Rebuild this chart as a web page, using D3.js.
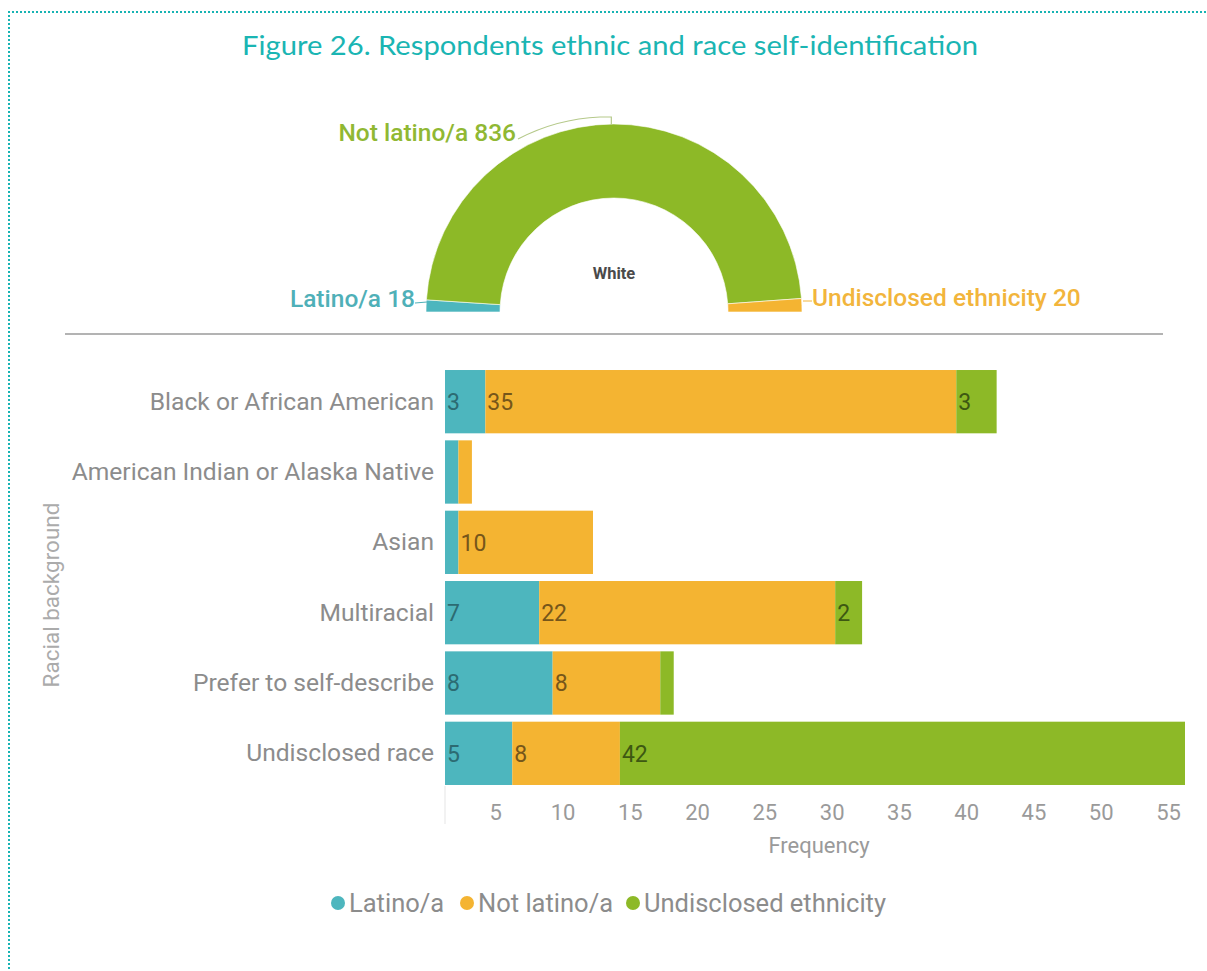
<!DOCTYPE html>
<html>
<head>
<meta charset="utf-8">
<script src="https://cdn.jsdelivr.net/npm/d3@7"></script>
<style>
  html, body { margin: 0; padding: 0; background: #fff; }
  svg { display: block; }
</style>
</head>
<body>
<svg id="chart" width="1207" height="971"></svg>
<script>
// Ethnicity groups (series) and their colours
const ethnicities = ["Latino/a", "Not latino/a", "Undisclosed ethnicity"];
const barColors = ["#4db6be", "#f4b432", "#8db927"];
const valueColors = ["#2c6b72", "#76561a", "#3d5812"];
// the half donut uses its own palette
const donutColors = ["#4db6be", "#8db927", "#f4b432"];
const donutLabelColors = ["#4fb0b8", "#90b833", "#f2b53c"];

// Respondents who identified as White, by ethnicity
const whiteCounts = [18, 836, 20];

// Other racial backgrounds, by ethnicity
const races = ["Black or African American", "American Indian or Alaska Native", "Asian",
               "Multiracial", "Prefer to self-describe", "Undisclosed race"];
const latino      = [3, 1, 1, 7, 8, 5];
const notLatino   = [35, 1, 10, 22, 8, 8];
const undisclosed = [3, 0, 0, 2, 1, 42];

const xTicks = [5, 10, 15, 20, 25, 30, 35, 40, 45, 50, 55];

const svg = d3.select("#chart");
const W = 1207, H = 971;
const FONT = "Roboto, sans-serif";

// Dotted frame
const frameColor = "#17b3b3";
svg.append("line").attr("x1", 9).attr("y1", 11).attr("x2", 9).attr("y2", H)
  .attr("stroke", frameColor).attr("stroke-width", 2).attr("stroke-dasharray", "2,2");
svg.append("line").attr("x1", 8).attr("y1", 12).attr("x2", W).attr("y2", 12)
  .attr("stroke", frameColor).attr("stroke-width", 2).attr("stroke-dasharray", "2,2");

// Title
svg.append("text")
  .attr("x", 610).attr("y", 55)
  .attr("text-anchor", "middle")
  .attr("font-family", "Lato, 'Open Sans', sans-serif")
  .attr("font-size", 27.5)
  .attr("textLength", 736)
  .attr("lengthAdjust", "spacingAndGlyphs")
  .attr("fill", "#1ab5b3")
  .text("Figure 26. Respondents ethnic and race self-identification");

// ---- Half donut: White respondents ----
const cx = 614, cy = 312, rOuter = 188, rInner = 114;
const pie = d3.pie().sort(null).startAngle(-Math.PI / 2).endAngle(Math.PI / 2);
const arc = d3.arc().innerRadius(rInner).outerRadius(rOuter);
const arcs = pie(whiteCounts);

const donut = svg.append("g").attr("transform", `translate(${cx},${cy})`);
donut.selectAll("path").data(arcs).join("path")
  .attr("d", arc)
  .attr("fill", (d, i) => donutColors[i])
  .attr("stroke", "#fff").attr("stroke-width", 0.6);

donut.append("text")
  .attr("x", 0).attr("y", -33)
  .attr("text-anchor", "middle")
  .attr("font-family", FONT)
  .attr("font-weight", 700)
  .attr("font-size", 16.5)
  .attr("fill", "#4a4a4a")
  .text("White");

// Slice labels with leader lines
const sliceLabels = [
  { i: 0, x: 415, y: 307, anchor: "end", line: [[415, 303], [427, 302]] },
  { i: 1, x: 516, y: 141, anchor: "end", line: null },
  { i: 2, x: 812, y: 306, anchor: "start", line: [[803, 301], [812, 301]] }
];
sliceLabels.forEach(s => {
  svg.append("text")
    .attr("x", s.x).attr("y", s.y)
    .attr("text-anchor", s.anchor)
    .attr("font-family", FONT)
    .attr("font-weight", 500)
    .attr("font-size", 24.5)
    .attr("fill", donutLabelColors[s.i])
    .text(`${ethnicities[s.i]} ${whiteCounts[s.i]}`);
});
// leader for the main slice: from its label to the top of the arc
const midAngle = (arcs[1].startAngle + arcs[1].endAngle) / 2;
const topX = cx + rOuter * Math.sin(midAngle), topY = cy - rOuter * Math.cos(midAngle);
svg.append("path")
  .attr("d", `M518,139 C545,125 575,118 600,117 L${topX - 2},117 L${topX - 2},${topY + 1}`)
  .attr("fill", "none").attr("stroke", "#b5c98a").attr("stroke-width", 1.2);
sliceLabels.filter(s => s.line).forEach(s => {
  svg.append("path")
    .attr("d", d3.line()(s.line))
    .attr("fill", "none").attr("stroke", donutLabelColors[s.i]).attr("stroke-width", 1);
});

// Separator
svg.append("line").attr("x1", 65).attr("x2", 1163).attr("y1", 334).attr("y2", 334)
  .attr("stroke", "#9a9a9a").attr("stroke-width", 1.5);

// ---- Stacked bars ----
const x = d3.scaleLinear().domain([0, 55]).range([445, 1185]);
const y = d3.scaleBand().domain(races).range([366.5, 788.5]).paddingInner(0.1).paddingOuter(0.05);

const rows = races.map((r, i) => ({
  race: r,
  "Latino/a": latino[i],
  "Not latino/a": notLatino[i],
  "Undisclosed ethnicity": undisclosed[i]
}));
const stack = d3.stack().keys(ethnicities)(rows);

// faint baseline
svg.append("line").attr("x1", x(0)).attr("x2", x(0)).attr("y1", 786).attr("y2", 824)
  .attr("stroke", "#eeeeee").attr("stroke-width", 1.5);

const layers = svg.append("g").selectAll("g").data(stack).join("g")
  .attr("fill", (d, i) => barColors[i]);
layers.selectAll("rect").data(d => d).join("rect")
  .attr("x", d => x(d[0]))
  .attr("y", d => y(d.data.race))
  .attr("width", d => x(d[1]) - x(d[0]))
  .attr("height", y.bandwidth());

// value labels inside segments
stack.forEach((layer, li) => {
  svg.append("g").selectAll("text")
    .data(layer.filter(d => d[1] - d[0] >= 2))
    .join("text")
    .attr("x", d => x(d[0]) + 2)
    .attr("y", d => y(d.data.race) + y.bandwidth() / 2)
    .attr("dy", "0.36em")
    .attr("font-family", FONT)
    .attr("font-size", 23)
    .attr("fill", valueColors[li])
    .text(d => d[1] - d[0]);
});

// category axis
const yAxis = svg.append("g").attr("transform", `translate(${x(0)},0)`)
  .call(d3.axisLeft(y).tickSize(0).tickPadding(11));
yAxis.select(".domain").remove();
yAxis.selectAll("text")
  .attr("font-family", FONT)
  .attr("font-size", 24.6)
  .attr("fill", "#8c8c8c");

// value axis
const xAxis = svg.append("g").attr("transform", "translate(0,798)")
  .call(d3.axisBottom(x).tickValues(xTicks).tickSize(0).tickPadding(6));
xAxis.select(".domain").remove();
xAxis.selectAll("text")
  .attr("dx", "-17")
  .attr("font-family", FONT)
  .attr("font-size", 22)
  .attr("fill", "#9a9a9a");

svg.append("text")
  .attr("x", 819).attr("y", 853)
  .attr("text-anchor", "middle")
  .attr("font-family", FONT)
  .attr("font-size", 22)
  .attr("fill", "#9a9a9a")
  .text("Frequency");

svg.append("text")
  .attr("transform", "translate(59,595) rotate(-90)")
  .attr("text-anchor", "middle")
  .attr("font-family", FONT)
  .attr("font-size", 22.5)
  .attr("fill", "#ababab")
  .text("Racial background");

// ---- Legend ----
const legendItems = [
  { cx: 338, tx: 349 },
  { cx: 467, tx: 478 },
  { cx: 633, tx: 644 }
];
const legend = svg.append("g");
ethnicities.forEach((e, i) => {
  legend.append("circle")
    .attr("cx", legendItems[i].cx).attr("cy", 903).attr("r", 7)
    .attr("fill", barColors[i]);
  legend.append("text")
    .attr("x", legendItems[i].tx).attr("y", 903).attr("dy", "0.36em")
    .attr("font-family", FONT)
    .attr("font-size", 25.5)
    .attr("fill", "#8c8c8c")
    .text(e);
});
</script>
</body>
</html>
